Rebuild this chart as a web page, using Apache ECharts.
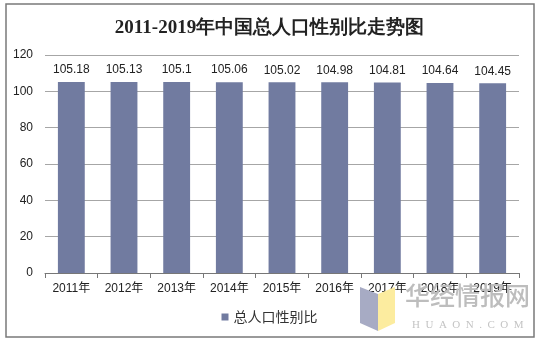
<!DOCTYPE html>
<html><head><meta charset="utf-8">
<script src="https://cdn.jsdelivr.net/npm/echarts@6/dist/echarts.min.js"></script>
<style>html,body{margin:0;padding:0;background:#fff}#c{width:539px;height:342px}</style>
</head><body><div id="c"></div>
<script>
const titleText = '2011-2019年中国总人口性别比走势图';
const categories = ['2011年','2012年','2013年','2014年','2015年','2016年','2017年','2018年','2019年'];
const seriesName = '总人口性别比';
const values = [105.18, 105.13, 105.1, 105.06, 105.02, 104.98, 104.81, 104.64, 104.45];
const valueLabels = ['105.18','105.13','105.1','105.06','105.02','104.98','104.81','104.64','104.45'];

const chart = echarts.init(document.getElementById('c'), null, {renderer:'canvas'});
chart.setOption({
  animation:false,
  backgroundColor:'#fff',
  title:{text:titleText,left:'center',top:14,textStyle:{fontFamily:'"Liberation Serif","DejaVu Serif",serif',fontSize:19,fontWeight:'bold',color:'#222'}},
  grid:{left:45,right:20,top:55,bottom:69},
  legend:{bottom:13,left:'center',itemWidth:7,itemHeight:7,icon:'rect',itemGap:4,textStyle:{fontSize:14,color:'#333',fontFamily:'"Noto Sans CJK SC",sans-serif'},data:[seriesName]},
  xAxis:{type:'category',data:categories,axisLine:{lineStyle:{color:'#777'}},axisTick:{show:true,alignWithLabel:false,lineStyle:{color:'#777'}},
    axisLabel:{color:'#222',fontSize:12,margin:10,fontFamily:'"Liberation Sans","Noto Sans CJK SC",sans-serif'}},
  yAxis:{type:'value',min:0,max:120,interval:20,axisLine:{show:false},axisTick:{show:false},
    axisLabel:{color:'#222',fontSize:12,margin:12,fontFamily:'"Liberation Sans",sans-serif'},
    splitLine:{lineStyle:{color:'#a6a6a6'}}},
  series:[{name:seriesName,type:'bar',data:values,barWidth:'51%',itemStyle:{color:'#717ba0'},
    label:{show:true,position:'top',distance:6,color:'#222',fontSize:12,fontFamily:'"Liberation Sans",sans-serif',
      formatter:p=>valueLabels[p.dataIndex]}}],
  graphic:[
    {type:'rect',shape:{x:6,y:4,width:528,height:333},style:{fill:'none',stroke:'#7a7a7a',lineWidth:1.5},z:100},
    {type:'polygon',shape:{points:[[360,287],[378,294],[378,331],[360,323]]},style:{fill:'#a7abc4'},z:50},
    {type:'polygon',shape:{points:[[378,294],[395,287],[395,323],[378,331]]},style:{fill:'#fcec9f'},z:50},
    {type:'text',style:{text:'华经情报网',x:405,y:283,fill:'#bdbdbd',font:'500 25px "Noto Sans CJK SC",sans-serif'},z:50},
    {type:'text',style:{text:'H  U  A  O  N  .  C  O  M',x:412,y:320,fill:'#c4c4c4',font:'11px "Liberation Serif",serif'},z:50}
  ]
});
</script></body></html>
